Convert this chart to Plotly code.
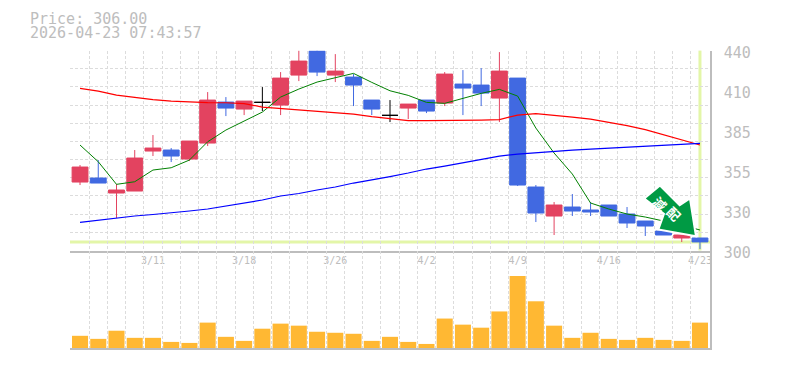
import plotly.graph_objects as go

dates = ["3/5","3/6","3/9","3/10","3/11","3/12","3/13","3/16","3/17","3/18","3/19","3/23","3/24","3/25","3/26","3/27","3/30","3/31","4/1","4/2","4/3","4/6","4/7","4/8","4/9","4/10","4/13","4/14","4/15","4/16","4/17","4/20","4/21","4/22","4/23"]
opens = [347.95,350.75,340.25,341.65,369.65,370.35,364.05,375.25,403.95,399.05,403.75,401.85,422.85,439.65,422.85,421.45,405.35,394.65,399.75,405.35,403.25,416.55,415.85,406.75,420.75,344.45,324.15,330.45,328.35,331.85,325.55,320.65,313.65,308.75,308.75]
highs = [359.85,363.35,346.55,370.35,380.85,371.75,376.65,410.95,407.45,404.65,414.45,424.95,440,440,437.55,423.55,405.35,405.35,402.55,405.35,424.95,426.35,427.75,438.95,420.75,345.85,333.95,339.55,333.95,331.85,330.45,320.65,313.65,310.85,308.75]
lows = [345.85,347.25,322.75,341.65,366.15,361.95,362.65,373.15,394.15,394.85,397.65,394.85,418.65,422.15,417.95,401.15,394.85,389.95,392.05,396.25,401.15,394.85,401.15,389.95,345.15,319.95,310.85,324.15,324.15,324.15,315.75,310.15,310.85,305.95,301.05]
closes = [358.45,347.25,342.35,364.75,371.75,366.15,376.65,405.35,399.75,404.65,403.75,420.75,432.65,424.95,425.65,415.85,399.05,394.65,402.55,397.65,423.55,413.75,410.25,425.65,345.85,326.25,331.85,327.65,326.95,324.15,319.25,317.15,310.85,310.85,306.0]
ma_short = [373.85,362.16,346.34,348.16,356.35,357.96,363.35,376.16,384.35,390.65,396.95,407.45,413.05,417.95,420.96,424.04,417.74,411.86,408.64,403.74,403.04,406.54,410.04,412.84,408.15,385.75,368.25,353.55,333.25,329.05,325.55,323.45,320.65,317.85,314.35]
ma_mid = [413.54,411.65,408.85,407.1,405.7,404.65,403.95,403.6,403.46,402.9,400.45,399.4,398.35,397.3,396.6,395.55,393.8,392.4,391.0,391.0,391.0,391.14,391.35,391.7,394.85,395.9,394.85,393.45,392.05,389.95,387.5,384.7,381.2,377.35,373.85]
ma_long = [319.74,321.35,322.96,324.15,325.2,326.25,327.65,329.05,331.15,332.9,335.35,338.15,339.9,342.35,344.45,347.25,349.35,351.8,354.25,357.05,359.15,361.6,364.05,366.15,367.55,368.6,369.65,370.35,371.05,371.75,372.45,372.94,373.5,374.2,375.04]
volumes = [12,9,17,10,10,6,5,25,11,7,19,24,22,16,15,14,7,11,6,4,29,23,20,36,71,46,22,10,15,9,8,10,8,7,25]
price_ticks = [440,412,384,356,328,300]
price_labels = ["440","410","385","355","330","300"]
date_tick_idx = [4,9,14,19,24,29,34]
last_price = 306.0
title_lines = ["Price: 306.00", "2026-04-23 07:43:57"]
badge = "減配"

RED, BLUE, ORANGE = "#E34360", "#4169E1", "#FFB833"
GRID, AXIS, TEXT = "#DCDCDC", "#BDBDBD", "#BDBDBD"
LIME = "#E3F6A8"
MONO = "DejaVu Sans Mono, monospace"
idx = list(range(len(dates)))
is_doji = [o == c for o, c in zip(opens, closes)]
pick = lambda arr, flag: [v for v, d in zip(arr, is_doji) if d == flag]

fig = go.Figure()
for vals, col, w in ((ma_short, "#008000", 1), (ma_mid, "#FF0000", 1.2), (ma_long, "#0000FF", 1.2)):
    fig.add_trace(go.Scatter(x=idx, y=vals, mode="lines", line=dict(color=col, width=w), showlegend=False, xaxis="x", yaxis="y"))
fig.add_trace(go.Candlestick(x=pick(idx, False), open=pick(opens, False), high=pick(highs, False), low=pick(lows, False), close=pick(closes, False),
    increasing=dict(line=dict(color=RED, width=1), fillcolor=RED), decreasing=dict(line=dict(color=BLUE, width=1), fillcolor=BLUE),
    whiskerwidth=0, showlegend=False, xaxis="x", yaxis="y"))
fig.add_trace(go.Candlestick(x=pick(idx, True), open=pick(opens, True), high=pick(highs, True), low=pick(lows, True), close=pick(closes, True),
    increasing=dict(line=dict(color="#000000", width=1), fillcolor="#000000"), decreasing=dict(line=dict(color="#000000", width=1), fillcolor="#000000"),
    whiskerwidth=0, showlegend=False, xaxis="x", yaxis="y"))
fig.add_trace(go.Bar(x=idx, y=volumes, marker=dict(color=ORANGE, line=dict(width=0)), width=0.88, showlegend=False, xaxis="x2", yaxis="y2"))

x_grid = [i - 0.5 for i in range(len(dates) + 1)]
minor_x = dict(tickvals=x_grid, showgrid=True, gridcolor=GRID, gridwidth=1, griddash="3px,2px", ticks="")
y_grid = [300 + 140 * i / 11 for i in range(12)]
x_range = [-0.55, 34.55]
split = (348 - 250.5) / 298
fig.update_layout(
    width=777, height=362, margin=dict(l=62, r=75, t=42, b=22),
    paper_bgcolor="white", plot_bgcolor="white", boxgap=0.13, boxgroupgap=0, boxmode="overlay", bargap=0.12,
    font=dict(family=MONO, color=TEXT),
    xaxis=dict(domain=[0, 1], range=x_range, anchor="y", rangeslider=dict(visible=False), showgrid=False, zeroline=False,
               tickmode="array", tickvals=date_tick_idx, ticktext=[dates[i] for i in date_tick_idx], tickfont=dict(size=10, color=TEXT),
               ticks="", showline=True, linecolor=AXIS, linewidth=1.5, minor=minor_x, ticklabelstandoff=0),
    xaxis2=dict(domain=[0, 1], range=x_range, anchor="y2", matches="x", showgrid=False, zeroline=False, showticklabels=False,
                tickmode="array", tickvals=date_tick_idx, ticks="", showline=True, linecolor=AXIS, linewidth=1.5, minor=minor_x),
    yaxis=dict(domain=[split, 0.998], range=[300, 440], anchor="x", side="right", showgrid=False, zeroline=False,
               tickmode="array", tickvals=price_ticks, ticktext=price_labels, tickfont=dict(size=15, color=TEXT), ticks="",
               showline=True, linecolor=AXIS, linewidth=1.5, ticklabelstandoff=9, ticklabelshift=2,
               minor=dict(tickvals=y_grid, showgrid=True, gridcolor=GRID, gridwidth=1, griddash="3px,2px", ticks="")),
    yaxis2=dict(domain=[0, split], range=[0, 96], anchor="x2", side="right", showgrid=False, zeroline=False, showticklabels=False,
                ticks="", showline=True, linecolor=AXIS, linewidth=1.5),
    shapes=[
        dict(type="line", xref="x domain", yref="y", x0=0, x1=1, y0=last_price, y1=last_price, line=dict(color=LIME, width=3), layer="below"),
        dict(type="line", xref="x", yref="y domain", x0=idx[-1], x1=idx[-1], y0=0, y1=1, line=dict(color=LIME, width=3), layer="below"),
        dict(type="path", xsizemode="pixel", ysizemode="pixel", xref="x", yref="y", xanchor=idx[-1], yanchor=last_price,
             path="M -40 56.4 L -20.3 36.7 L -10 43.4 L -4 5.7 L -41.7 12.4 L -36 28.1 L -55.7 43.4 Z",
             fillcolor="#009A44", line=dict(color="white", width=2), layer="above"),
    ],
    annotations=[
        dict(text=title_lines[0], xref="paper", yref="paper", x=(28-70)/640, y=(348-19)/298, xanchor="left", yanchor="middle", showarrow=False, font=dict(size=15, color=TEXT, family=MONO)),
        dict(text=title_lines[1], xref="paper", yref="paper", x=(28-70)/640, y=(348-33)/298, xanchor="left", yanchor="middle", showarrow=False, font=dict(size=15, color=TEXT, family=MONO)),
        dict(text=badge[0], xref="paper", yref="paper", x=(660-70)/640, y=(348-203)/298, xanchor="center", yanchor="middle", textangle=45, showarrow=False,
             font=dict(size=13, color="white", family="Noto Sans CJK JP", weight="bold")),
        dict(text=badge[1], xref="paper", yref="paper", x=(674-70)/640, y=(348-213)/298, xanchor="center", yanchor="middle", textangle=45, showarrow=False,
             font=dict(size=13, color="white", family="Noto Sans CJK JP", weight="bold")),
    ],
)
fig.write_html("out.html")
